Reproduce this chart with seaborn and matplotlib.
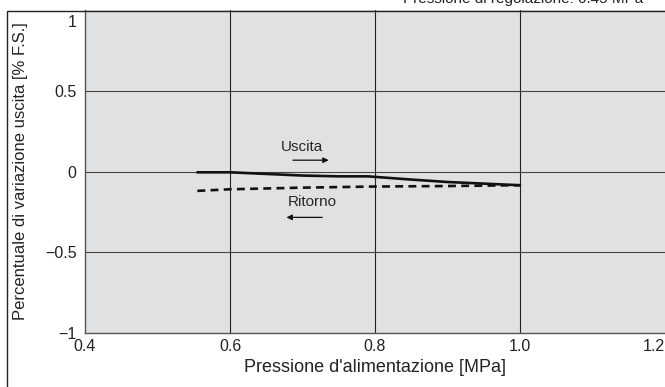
import matplotlib
matplotlib.use("Agg")
import matplotlib.pyplot as plt
import matplotlib.patches as mpatches
import matplotlib.transforms as mtransforms
import seaborn as sns
import pandas as pd

# dati
pressione_uscita = [0.555, 0.60, 0.65, 0.70, 0.75, 0.79, 0.85, 0.90, 0.95, 1.00]
variazione_uscita = [-0.005, -0.005, -0.015, -0.025, -0.03, -0.03, -0.05, -0.065, -0.075, -0.085]
pressione_ritorno = [0.555, 0.60, 0.70, 0.80, 0.90, 1.00]
variazione_ritorno = [-0.12, -0.11, -0.10, -0.093, -0.09, -0.085]

x_ticks = [0.4, 0.6, 0.8, 1.0, 1.2]
x_labels = ["0.4", "0.6", "0.8", "1.0", "1.2"]
y_ticks = [-1, -0.5, 0, 0.5, 1]
y_labels = ["\u22121", "\u22120.5", "0", "0.5", "1"]

df = pd.concat([
    pd.DataFrame({"P": pressione_uscita, "V": variazione_uscita, "curva": "Uscita"}),
    pd.DataFrame({"P": pressione_ritorno, "V": variazione_ritorno, "curva": "Ritorno"}),
])

sns.set_style("white", {"axes.facecolor": "#e0e1e3"})
plt.rcParams["font.family"] = ["Liberation Sans", "DejaVu Sans"]

fig = plt.figure(figsize=(6.65, 3.87), dpi=100)
ax = fig.add_axes([85 / 665, 1 - 333 / 387, 1 - 85 / 665, 323 / 387])

sns.lineplot(data=df, x="P", y="V", style="curva", color="#111111",
             dashes={"Uscita": "", "Ritorno": (3, 2)}, linewidth=1.9,
             legend=False, ax=ax, sort=False)

ax.set_xlim(0.4, 1.2)
ax.set_ylim(-1, 1)
ax.set_xticks(x_ticks)
ax.set_xticklabels(x_labels)
ax.set_yticks(y_ticks)
ax.set_yticklabels(y_labels)
ax.tick_params(length=0, labelsize=11.5, colors="#222222")
ax.tick_params(axis="x", pad=4)
ax.tick_params(axis="y", pad=6)
ax.get_xticklabels()[-1].set_horizontalalignment("right")
top_lbl = ax.get_yticklabels()[-1]
top_lbl.set_verticalalignment("top")
top_lbl.set_transform(top_lbl.get_transform() +
                      mtransforms.ScaledTranslation(0, -5 / 100, fig.dpi_scale_trans))

for xv in [0.6, 0.8, 1.0]:
    ax.axvline(xv, color="#222222", linewidth=0.8, zorder=0.5)
for yv in [-0.5, 0, 0.5]:
    ax.axhline(yv, color="#444444", linewidth=0.8, zorder=0.5)

for side in ["top", "right"]:
    ax.spines[side].set_visible(False)
for side in ["left", "bottom"]:
    ax.spines[side].set_color("#555555")
    ax.spines[side].set_linewidth(1.0)

ax.set_xlabel("Pressione d'alimentazione [MPa]", fontsize=13, color="#222222", labelpad=4)
ax.set_ylabel("Percentuale di variazione uscita [% F.S.]", fontsize=12, color="#222222", labelpad=12)

# etichette e frecce
ax.text(0.699, 0.154, "Uscita", ha="center", va="center", fontsize=11)
ax.annotate("", xy=(0.740, 0.07), xytext=(0.683, 0.07),
            arrowprops=dict(arrowstyle="-|>", color="#111111", lw=0.9, mutation_scale=8))
ax.text(0.714, -0.19, "Ritorno", ha="center", va="center", fontsize=11)
ax.annotate("", xy=(0.674, -0.284), xytext=(0.731, -0.284),
            arrowprops=dict(arrowstyle="-|>", color="#111111", lw=0.9, mutation_scale=8))

# cornice esterna
fig.patches.append(mpatches.Rectangle((7 / 665, -0.1), 1.2, 1.1 - 11 / 387,
                                      transform=fig.transFigure, fill=False,
                                      edgecolor="#222222", linewidth=1.0))

fig.text(403 / 665, 1 - 2.5 / 387, "Pressione di regolazione: 0.45 MPa", ha="left", va="baseline",
         fontsize=11, color="#222222")

fig.savefig("out.png", dpi=100)
